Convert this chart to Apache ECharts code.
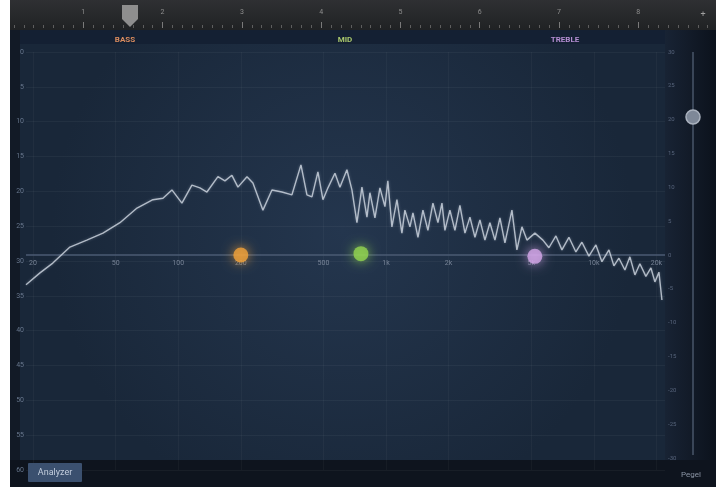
<!DOCTYPE html>
<html><head><meta charset="utf-8">
<script src="https://cdn.jsdelivr.net/npm/echarts@6/dist/echarts.min.js"></script>
<style>html,body{margin:0;padding:0;background:#fff}#c{width:716px;height:487px}</style>
</head><body><div id="c"></div>
<script>
// ---- data ----
const spectrumFreq = [18.5,21.6,24.9,30.1,36.3,43.4,52.4,63.3,75.5,84.4,93.2,104.1,116.3,127.1,137.4,155.2,167.7,181.2,193.7,214.1,228.7,255.5,282.4,315.4,352.4,389.4,416.1,439.8,470,496.9,525.2,567.6,599.8,648.1,685.1,724.2,765.4,809.1,836.3,884,934.4,987.7,1020,1067,1128,1192,1232,1303,1347,1424,1505,1590,1681,1777,1858,1920,2029,2145,2267,2397,2533,2678,2830,2991,3161,3342,3532,3733,4034,4263,4507,4764,5204,5687,6077,6569,7022,7586,8197,8761,9468,10231,10935,11819,12492,13203,14110,14911,15762,16658,17802,18822,19670,20570,21262];
const spectrumLevel = [33.4,31.7,30.3,28.0,27.0,26.0,24.5,22.4,21.2,21.0,19.8,21.7,19.1,19.5,20.1,17.9,18.5,17.7,19.4,17.9,18.8,22.7,19.8,20.1,20.5,16.2,20.5,20.8,17.2,21.2,19.5,17.4,19.4,16.9,19.8,24.5,19.4,23.7,20.2,23.8,19.5,22.2,18.5,25.1,21.2,26.0,22.7,25.1,23.1,26.6,22.7,25.6,21.7,24.5,21.7,25.6,22.7,25.6,22.0,26.0,23.7,26.6,24.1,27.0,24.5,27.0,23.8,27.4,22.7,28.4,25.1,27.0,26.0,27.0,28.1,26.4,28.4,26.6,28.7,27.3,29.3,27.7,30.1,28.4,30.7,29.6,31.3,29.4,32.0,30.4,32.2,31.0,33.0,31.6,35.6];
const freqTicks = [20,50,100,200,500,1000,2000,5000,10000,20000];
const freqTickLabels = ['20','50','100','200','500','1k','2k','5k','10k','20k'];
const bandNames = ['BASS','MID','TREBLE'];
const bandFreq = [200,757,5200];
const bandGain = [0,0.2,-0.2];
const rulerLabels = ['1','2','3','4','5','6','7','8'];

// ---- style ----
const FONT = 'Roboto, "Noto Sans", sans-serif';
const bandColors = ['#f2a33a','#93d650','#d6a8ea'];
const bandTextColors = ['#d98b5e','#a9c76c','#b58ed2'];
const bandTextX = [125,345,565];

const chart = echarts.init(document.getElementById('c'));
const option = {
  backgroundColor:'#ffffff',
  animation:false,
  textStyle:{fontFamily:FONT},
  grid:[
    {left:26,right:51,top:52,bottom:17},
    {left:26,right:51,top:52,bottom:29},
    {left:4,right:0,top:0,height:28}
  ],
  xAxis:[
    {gridIndex:0,type:'log',min:18.5,max:22000,show:false},
    {gridIndex:1,type:'log',min:18.5,max:22000,show:false},
    {gridIndex:2,type:'value',min:0,max:8.98,interval:1,position:'bottom',
     axisLine:{show:false},
     axisTick:{inside:true,length:6,lineStyle:{color:'#7a7a7a'}},
     minorTick:{show:true,splitNumber:8,length:3,lineStyle:{color:'#5e5e5e'}},
     splitLine:{show:false},
     axisLabel:{inside:true,margin:12,fontSize:7,color:'#8e8e8e',showMinLabel:false,showMaxLabel:false,
       formatter:v=>rulerLabels[v-1]||''}}
  ],
  yAxis:[
    {gridIndex:0,type:'value',inverse:true,min:0,max:60,interval:5,
     axisLine:{show:false},axisTick:{show:false},
     axisLabel:{fontSize:7,color:'#67768c',margin:2},
     splitLine:{lineStyle:{color:'rgba(255,255,255,0.045)',width:1}}},
    {gridIndex:1,type:'value',position:'right',min:-30,max:30,interval:5,
     axisLine:{show:false},axisTick:{show:false},
     axisLabel:{fontSize:6,color:'#56637a',margin:3},
     splitLine:{show:false}},
    {gridIndex:2,type:'value',min:0,max:1,show:false}
  ],
  series:[
    {name:'Analyzer',type:'line',xAxisIndex:0,yAxisIndex:0,
     data:spectrumFreq.map((f,i)=>[f,spectrumLevel[i]]),
     showSymbol:false,symbol:'none',z:5,
     lineStyle:{color:'rgba(210,217,228,0.8)',width:1.4,shadowBlur:3,shadowColor:'rgba(200,210,230,0.4)'},
     markLine:{silent:true,symbol:'none',label:{show:false},
       lineStyle:{color:'rgba(255,255,255,0.035)',type:'solid',width:1},
       data:freqTicks.map(f=>({xAxis:f}))}},
    {name:'Frequenz',type:'scatter',xAxisIndex:1,yAxisIndex:1,symbolSize:1,
     itemStyle:{color:'rgba(0,0,0,0)'},z:3,silent:true,
     data:freqTicks.map((f,i)=>({value:[f,0],label:{formatter:freqTickLabels[i]}})),
     label:{show:true,position:'bottom',distance:4,fontSize:7,color:'#8d99ab'},
     markLine:{silent:true,symbol:'none',label:{show:false},
       lineStyle:{color:'#4b5b73',type:'solid',width:1.5},
       data:[{yAxis:0}]}},
    {name:'Bands',type:'scatter',xAxisIndex:1,yAxisIndex:1,symbolSize:15,z:10,
     data:bandFreq.map((f,i)=>({value:[f,bandGain[i]],name:bandNames[i],
       itemStyle:{color:bandColors[i],shadowBlur:12,shadowColor:bandColors[i]}}))}
  ],
  graphic:{elements:[
    {type:'rect',z:-10,shape:{x:10,y:0,width:706,height:30},
     style:{fill:new echarts.graphic.LinearGradient(0,0,0,1,[{offset:0,color:'#2f3033'},{offset:1,color:'#202224'}])}},
    {type:'rect',z:-10,shape:{x:10,y:30,width:706,height:457},style:{fill:'#121a26'}},
    {type:'rect',z:-9,shape:{x:20,y:44,width:645,height:416},
     style:{fill:new echarts.graphic.RadialGradient(0.5,0.45,0.7,[{offset:0,color:'#24364e'},{offset:1,color:'#192739'}])}},
    {type:'rect',z:-9,shape:{x:20,y:30,width:645,height:14},style:{fill:'#142033'}},
    {type:'rect',z:-9,shape:{x:665,y:30,width:51,height:430},
     style:{fill:new echarts.graphic.LinearGradient(0,0,1,0,[{offset:0,color:'#182334'},{offset:1,color:'#0c121c'}])}},
    {type:'rect',z:-9,shape:{x:10,y:460,width:706,height:27},style:{fill:'#0e141e'}},
    {type:'rect',z:30,shape:{x:0,y:0,width:10,height:487},style:{fill:'#ffffff'}},
    {type:'polygon',z:20,shape:{points:[[122,5],[138,5],[138,19],[130,27],[122,19]]},style:{fill:'#8e8e8e'}},
    {type:'text',z:20,x:703,y:10,style:{text:'+',fill:'#a0a0a0',font:'9px '+FONT,align:'center'}},
    {type:'line',z:20,shape:{x1:693,y1:52,x2:693,y2:455},style:{stroke:'#3a4658',lineWidth:2}},
    {type:'circle',z:21,shape:{cx:693,cy:117,r:7},style:{fill:'#7e8898',stroke:'#aab2be',lineWidth:1.5}},
    ...bandNames.map((n,i)=>({type:'text',z:20,x:bandTextX[i],y:36,
      style:{text:n,fill:bandTextColors[i],font:'bold 8px '+FONT,align:'center'}})),
    {type:'rect',z:20,shape:{x:28,y:463,width:54,height:19,r:1},style:{fill:'#3b506f'}},
    {type:'text',z:21,x:55,y:468,style:{text:'Analyzer',fill:'#c3cede',font:'9px '+FONT,align:'center'}},
    {type:'text',z:21,x:691,y:471,style:{text:'Pegel',fill:'#8a94a4',font:'8px '+FONT,align:'center'}}
  ]}
};
chart.setOption(option);
</script></body></html>
